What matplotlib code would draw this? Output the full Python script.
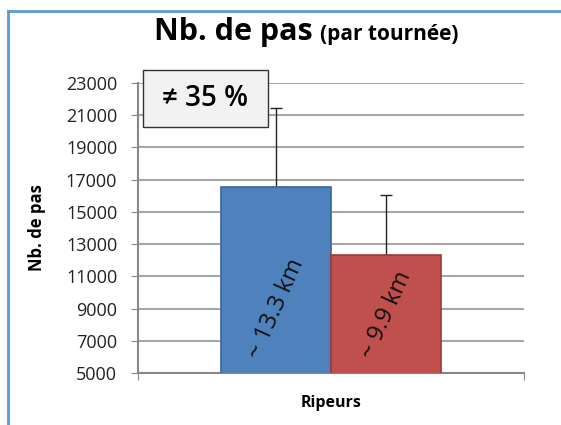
import matplotlib
matplotlib.use("Agg")
import matplotlib.pyplot as plt
from matplotlib.lines import Line2D
from matplotlib.patches import Rectangle

plt.rcParams['font.family'] = ['Open Sans', 'DejaVu Sans']

# data
series = ["Ripeurs A", "Ripeurs B"]
steps = [16550, 12330]
err_up = [4900, 3730]
bar_labels = ["~ 13.3 km", "~ 9.9 km"]
colors = ["#4f81bd", "#c0504d"]
edges = ["#3a6599", "#9b3b38"]
category = "Ripeurs"
yticks = list(range(5000, 23001, 2000))

fig = plt.figure(figsize=(5.61, 4.25), dpi=100)
ax = fig.add_axes([0.246, 0.122, 0.688, 0.683])

width = 0.57
xs = [-width / 2, width / 2]
ax.bar(xs, steps, width=width, color=colors, edgecolor=edges, linewidth=1.2,
       zorder=3)
# upper error only; drawn behind the bars so the lower cap stays hidden
ax.errorbar(xs, steps, yerr=[[0, 0], err_up], fmt="none", ecolor="#222222",
            elinewidth=1, capsize=4, capthick=1, zorder=2)
label_y = [9000, 8600]
for x, y, t in zip(xs, label_y, bar_labels):
    ax.text(x, y, t, rotation=66, ha="center", va="center", fontsize=17,
            color="#111111", zorder=5, rotation_mode="anchor")

ax.set_xlim(-1, 1)
ax.set_ylim(5000, 23000)
ax.set_yticks(yticks)
ax.set_yticklabels([str(t) for t in yticks], fontsize=13, color="#222222")
ax.yaxis.grid(True, color="#a6a6a6", linewidth=1.5, zorder=0)
ax.set_axisbelow(True)
ax.set_xticks([-1, 1])
ax.set_xticklabels(["", ""])
ax.tick_params(axis="y", length=5, color="#888888", pad=10)
ax.tick_params(axis="x", length=5, color="#888888")
for side in ("top", "right"):
    ax.spines[side].set_visible(False)
for side in ("left", "bottom"):
    ax.spines[side].set_color("#888888")
    ax.spines[side].set_linewidth(1.5)
ax.text(0.5, -0.075, category, transform=ax.transAxes, ha="center", va="top",
        fontsize=11.5, fontweight="bold")
ax.set_ylabel("Nb. de pas", fontsize=12, fontweight="bold", labelpad=14)

# difference box
fig.add_artist(Rectangle((0.255, 0.701), 0.223, 0.134, transform=fig.transFigure,
                         fc="#f2f2f2", ec="#333333", lw=1, zorder=6))
fig.text(0.366, 0.768, "≠ 35 %", ha="center", va="center", fontsize=20,
         fontweight="semibold", zorder=7)

# title
fig.text(0.557, 0.906, "Nb. de pas", ha="right", va="baseline", fontsize=22,
         fontweight="bold")
fig.text(0.570, 0.906, "(par tournée)", ha="left", va="baseline", fontsize=15,
         fontweight="bold")

# chart frame
fig.add_artist(Line2D([8 / 561, 1], [1 - 11 / 425] * 2, color="#5b9bd5", lw=2,
                      transform=fig.transFigure))
fig.add_artist(Line2D([8 / 561] * 2, [0, 1 - 11 / 425], color="#5b9bd5", lw=2,
                      transform=fig.transFigure))

fig.savefig("out.png", dpi=100)
